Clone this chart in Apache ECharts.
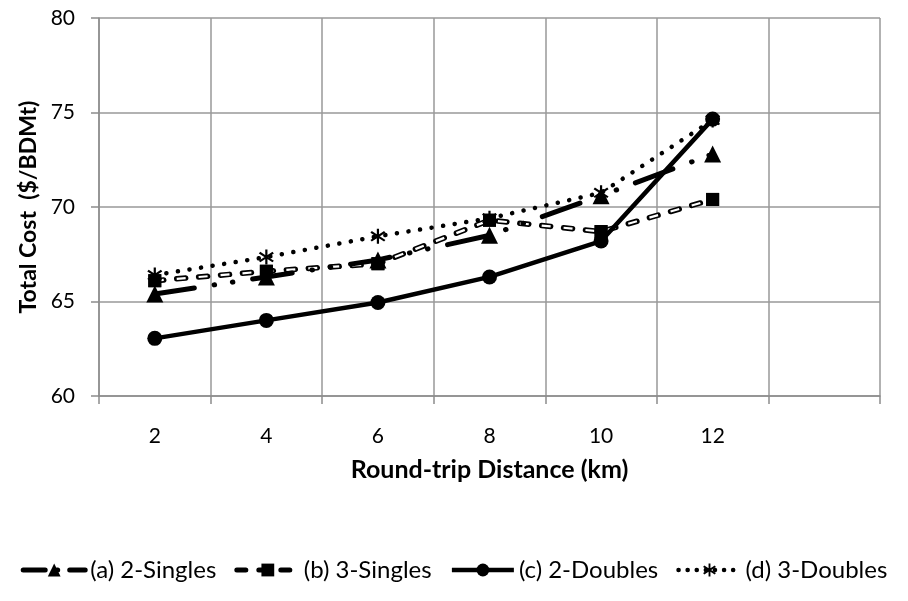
<!DOCTYPE html>
<html>
<head>
<meta charset="utf-8">
<script src="https://cdn.jsdelivr.net/npm/echarts@6/dist/echarts.min.js"></script>
<style>
  html, body { margin: 0; padding: 0; background: #fff; }
  #chart { width: 908px; height: 601px; }
</style>
</head>
<body>
<div id="chart"></div>
<script>
// 总成本折线图
const distances = ['2', '4', '6', '8', '10', '12', '']
const singles2 = [65.4, 66.3, 67.2, 68.5, 70.6, 72.8]
const singles3 = [66.1, 66.6, 67.0, 69.3, 68.7, 70.4]
const doubles2 = [63.05, 64.0, 64.95, 66.3, 68.2, 74.65]
const doubles3 = [66.4, 67.35, 68.45, 69.4, 70.75, 74.6]
const yTicks = [60, 65, 70, 75, 80]

const names = ['(a) 2-Singles', '(b) 3-Singles', '(c) 2-Doubles', '(d) 3-Doubles']

// asterisk marker
const starPath = 'path://M8.7 0L11.3 0L11.3 20L8.7 20Z' +
  'M1.2 5.2L2.8 3.0L18.8 14.8L17.2 17.0Z' +
  'M17.2 3.0L18.8 5.2L2.8 17.0L1.2 14.8Z'

const font = 'Lato, "Open Sans", sans-serif'

const lineA = { color: '#000', width: 5, type: [40, 20, 0.5, 18, 0.5, 20], cap: 'round' }
const lineB = { color: '#000', width: 5.5, type: [9, 13], cap: 'round' }
const lineC = { color: '#000', width: 4.5 }
const lineD = { color: '#000', width: 4.5, type: [0.1, 11.6], cap: 'round' }

const myChart = echarts.init(document.getElementById('chart'))
const option = {
  animation: false,
  backgroundColor: '#fff',
  textStyle: { fontFamily: font, color: '#000' },
  grid: { left: 99, right: 28, top: 18, bottom: 205 },
  legend: {
    data: [
      { name: names[0], lineStyle: { width: 5, type: [22, 12, 0.5, 12] } },
      { name: names[1], lineStyle: { width: 5 } },
      { name: names[2], lineStyle: { width: 4.5 } },
      { name: names[3], lineStyle: { width: 4.5, type: [0.1, 9] } },
    ],
    bottom: 14,
    left: 'center',
    itemWidth: 62,
    itemHeight: 16,
    itemGap: 18,
    textStyle: { fontSize: 24, color: '#000', fontFamily: font },
  },
  xAxis: {
    type: 'category',
    data: distances,
    boundaryGap: true,
    name: 'Round-trip Distance (km)',
    nameLocation: 'middle',
    nameGap: 61,
    nameTextStyle: { fontSize: 25, fontWeight: 'bold', color: '#000' },
    axisLine: { lineStyle: { color: '#8c8c8c', width: 1.5 } },
    axisTick: { show: true, length: 8, lineStyle: { color: '#8c8c8c', width: 1.5 } },
    axisLabel: { fontSize: 21, color: '#000', margin: 30 },
    splitLine: { show: true, lineStyle: { color: '#999', width: 1.5 } },
  },
  yAxis: {
    type: 'value',
    min: yTicks[0],
    max: yTicks[yTicks.length - 1],
    interval: 5,
    name: 'Total Cost  ($/BDMt)',
    nameLocation: 'middle',
    nameGap: 54,
    nameTextStyle: { fontSize: 23, fontWeight: 'bold', color: '#000' },
    axisLine: { show: true, lineStyle: { color: '#8c8c8c', width: 1.5 } },
    axisTick: { show: true, length: 8, lineStyle: { color: '#8c8c8c', width: 1.5 } },
    axisLabel: { fontSize: 21, color: '#000', margin: 24 },
    splitLine: { show: true, lineStyle: { color: '#999', width: 1.5 } },
  },
  series: [
    {
      name: names[0],
      type: 'line',
      data: singles2,
      symbol: 'triangle',
      symbolSize: 17,
      itemStyle: { color: '#000' },
      lineStyle: lineA,
      z: 3,
    },
    {
      name: names[1],
      type: 'line',
      data: singles3,
      symbol: 'rect',
      symbolSize: 13,
      itemStyle: { color: '#000' },
      lineStyle: lineB,
      z: 2,
    },
    {
      // 白色内芯
      name: 'b-inner',
      type: 'line',
      data: singles3,
      symbol: 'none',
      lineStyle: { color: '#fff', width: 2.2, type: [9, 13], cap: 'butt' },
      z: 2,
    },
    {
      name: 'b-marks',
      type: 'line',
      data: singles3,
      symbol: 'rect',
      symbolSize: 13,
      itemStyle: { color: '#000' },
      lineStyle: { opacity: 0 },
      z: 2,
    },
    {
      name: names[3],
      type: 'line',
      data: doubles3,
      symbol: starPath,
      symbolSize: 15,
      itemStyle: { color: '#000' },
      lineStyle: lineD,
      z: 3,
    },
    {
      name: names[2],
      type: 'line',
      data: doubles2,
      symbol: 'circle',
      symbolSize: 15,
      itemStyle: { color: '#000' },
      lineStyle: lineC,
      z: 4,
    },
  ],
}

option && myChart.setOption(option)
</script>
</body>
</html>
